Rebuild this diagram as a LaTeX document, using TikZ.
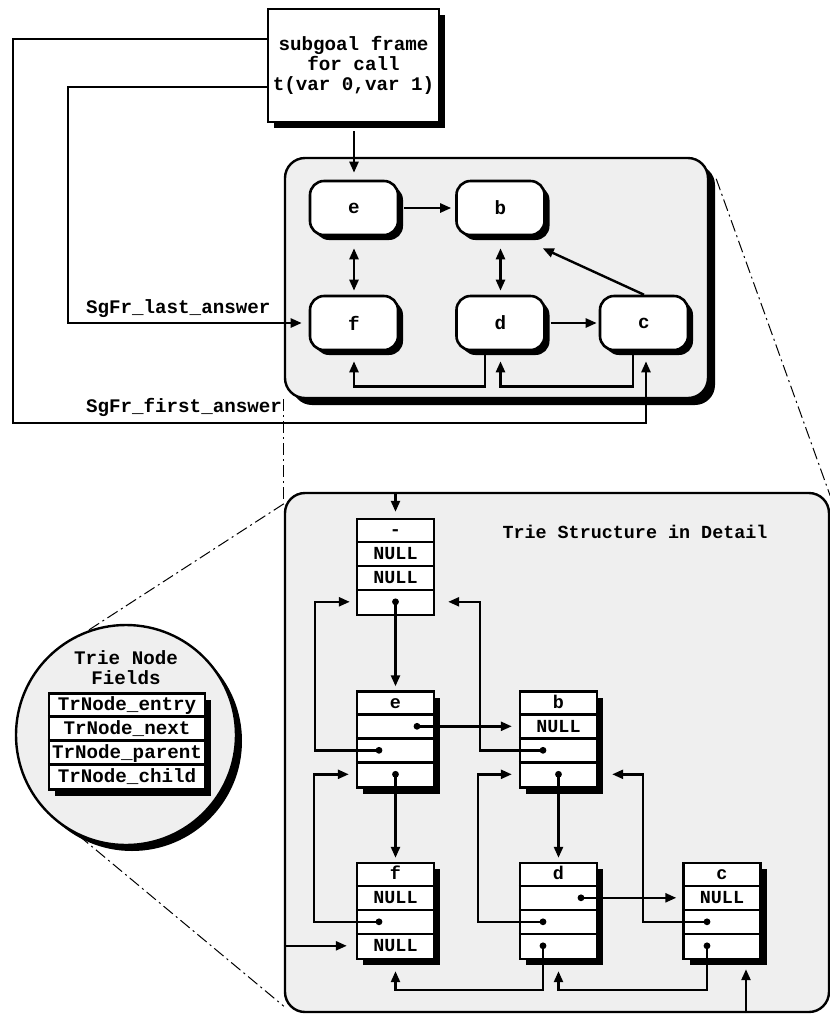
\documentclass[tikz,border=0pt]{standalone}
\usepackage{fontspec}
\setmonofont{Liberation Mono}
\usetikzlibrary{arrows.meta,shadows,calc}
\definecolor{panel}{RGB}{239,239,239}

\tikzset{
  every node/.style={font=\ttfamily\bfseries\fontsize{9.6pt}{10pt}\selectfont},
  blackshadow/.style={drop shadow={shadow xshift=#1,shadow yshift=-#1,opacity=1,fill=black}},
  panelbox/.style={draw,line width=1.2pt,fill=panel,rounded corners=10pt,inner sep=0pt},
  framebox/.style={draw,line width=1.2pt,fill=white,minimum width=85.5pt,minimum height=56.5pt,
    align=center,inner sep=0pt,blackshadow=3pt},
  rnode/.style={draw,line width=1.3pt,fill=white,rounded corners=7pt,minimum width=44pt,
    minimum height=27pt,blackshadow=2.5pt},
  tbox/.style={draw,line width=1.2pt,fill=white,minimum width=38.5pt,minimum height=48pt,inner sep=0pt},
  rowtext/.style={inner sep=0pt,text height=6pt,text depth=0pt,
    font=\ttfamily\bfseries\fontsize{9.2pt}{10pt}\selectfont},
  conn/.style={line width=1.2pt,-{Triangle[length=5.5pt,width=4.5pt]}},
  twoway/.style={line width=1.2pt,{Triangle[length=5.5pt,width=4.5pt]}-{Triangle[length=5.5pt,width=4.5pt]}},
  callout/.style={line width=0.5pt,dash pattern=on 6pt off 2pt on 1pt off 2pt},
}

% a four-field trie node: name, position, extra style, field texts
\newcommand{\trienode}[7]{%
  \node[tbox,#3] (#1) at (#2) {};
  \node[rowtext] (#1-1) at ([yshift=-6pt]#1.north) {#4};
  \node[rowtext] (#1-2) at ([yshift=-18pt]#1.north) {#5};
  \node[rowtext] (#1-3) at ([yshift=-30pt]#1.north) {#6};
  \node[rowtext] (#1-4) at ([yshift=-42pt]#1.north) {#7};
  \coordinate (#1-2w) at (#1.west |- #1-2);
  \coordinate (#1-4w) at (#1.west |- #1-4);
  \coordinate (#1-4e) at (#1.east |- #1-4);
  \draw[line width=1.2pt]
    ([yshift=-12pt]#1.north west) -- ([yshift=-12pt]#1.north east)
    ([yshift=-24pt]#1.north west) -- ([yshift=-24pt]#1.north east)
    ([yshift=-36pt]#1.north west) -- ([yshift=-36pt]#1.north east);
}
\newcommand{\fielddot}[1]{\fill (#1) circle (1.7pt);}

\begin{document}
\begin{tikzpicture}[x=0.5pt,y=-0.5pt]
\useasboundingbox (0,0) rectangle (830,1014);

\coordinate (tpc) at (496.5,278);
\coordinate (bpc) at (557,752.5);

% ---------- panels and legend circle ----------
\node[panelbox,minimum width=211.5pt,minimum height=120pt,blackshadow=3.5pt] (tp) at (tpc) {};
\node[panelbox,minimum width=272pt,minimum height=259.5pt] (bp) at (bpc) {};
\node[circle,draw,line width=1.2pt,fill=panel,minimum size=110pt,inner sep=0pt,blackshadow=3pt]
  (zm) at (126,735) {};

% ---------- zoom call-out lines ----------
\draw[callout] (tp.south west) -- ([yshift=-5pt]bp.north west);
\draw[callout] ([xshift=3.5pt,yshift=-11pt]tp.north east) -- ([yshift=-2pt]bp.north east);
\draw[callout] ([yshift=-6pt]bp.north west) -- (zm.110.7);
\draw[callout] (zm.245) -- ([yshift=3.5pt]bp.south west);

% ---------- upper panel: answer list of the subgoal ----------
\node[framebox] (sg) at (353.5,65.5) {subgoal frame\\for call\\t(var 0,var 1)};

\node[rnode] (se) at (354,208) {e};
\node[rnode] (sb) at (500.5,208) {b};
\node[rnode] (sf) at (354,323) {f};
\node[rnode] (sd) at (500.5,323) {d};
\node[rnode] (sc) at (644,323) {c};

\draw[conn,shorten <=4pt,shorten >=3.5pt] (sg.south -| se.north) -- (se.north);
\draw[conn,shorten <=2.5pt,shorten >=2pt] (se.east) -- (sb.west);
\draw[twoway,shorten <=6pt,shorten >=2pt] (se.south) -- (sf.north);
\draw[twoway,shorten <=6pt,shorten >=2pt] (sb.south) -- (sd.north);
\draw[conn,shorten <=2.5pt,shorten >=1pt] (sd.east) -- (sc.west);
\draw[conn] (sc.north) -- ([xshift=-1.5pt,yshift=-6pt]sb.south east);
\draw[conn,shorten >=5pt] ([xshift=-7.75pt]sd.south) -- ++(0,35) -| (sf.south);
\draw[conn,shorten >=5pt] ([xshift=-5.5pt]sc.south) -- ++(0,35) -| (sd.south);

\coordinate (fa) at (13,423);
\coordinate (la) at (68,323);
\draw[conn,shorten >=5pt] ([yshift=13.25pt]sg.west) -| (fa) -| ([xshift=1pt]sc.south);
\draw[conn,shorten >=3.5pt] ([yshift=-10.75pt]sg.west) -| (la) -- (sf.west);
\node[anchor=west] (lbllast) at (79,309) {SgFr\_last\_answer};
\node[anchor=west] (lblfirst) at (79,407) {SgFr\_first\_answer};

% ---------- lower panel: trie nodes ----------
\node[rowtext] (title) at (635,532) {Trie Structure in Detail};

\trienode{tr}{395.5,567}{}{-}{NULL}{NULL}{}
\trienode{te}{395.5,739.5}{blackshadow=3pt}{e}{}{}{}
\trienode{tb}{558.5,739.5}{blackshadow=3pt}{b}{NULL}{}{}
\trienode{tf}{395.5,911}{blackshadow=3pt}{f}{NULL}{}{NULL}
\trienode{td}{558.5,911}{blackshadow=3pt}{d}{}{}{}
\trienode{tc}{722,911}{blackshadow=3pt}{c}{NULL}{}{}

% pointer origins inside the fields
\coordinate (p-rc) at (tr-4.center);
\coordinate (p-en) at ([xshift=10.75pt]te-2.center);
\coordinate (p-ep) at ([xshift=-8.25pt]te-3.center);
\coordinate (p-ec) at (te-4.center);
\coordinate (p-fp) at ([xshift=-8.25pt]tf-3.center);
\coordinate (p-bp) at ([xshift=-7.75pt]tb-3.center);
\coordinate (p-bc) at (tb-4.center);
\coordinate (p-dn) at ([xshift=11.25pt]td-2.center);
\coordinate (p-dp) at ([xshift=-7.75pt]td-3.center);
\coordinate (p-dc) at ([xshift=-7.75pt]td-4.center);
\coordinate (p-cp) at ([xshift=-7.5pt]tc-3.center);
\coordinate (p-cc) at ([xshift=-7.5pt]tc-4.center);
\coordinate (cin) at ([xshift=12pt]tc.south);

\draw[conn,shorten >=3pt] (tr.north |- bp.north) -- (tr.north);
\draw[conn,shorten >=2pt] (p-rc) -- (te.north);
\draw[conn,shorten >=3.5pt] (p-en) -- (tb-2w);
\draw[conn,shorten >=3pt] (p-ep) -| ([xshift=-20.5pt]tr-4w) -- (tr-4w);
\draw[conn,shorten >=2pt] (p-ec) -- (tf.north);
\draw[conn,shorten >=3.5pt] (p-fp) -| ([xshift=-21pt]te-4w) -- (te-4w);
\draw[conn,shorten >=4.5pt] (bp.west |- tf-4) -- (tf.west |- tf-4);
\draw[conn,shorten >=6.5pt] (p-bp) -| ([xshift=22.5pt]tr-4e) -- (tr-4e);
\draw[conn,shorten >=2pt] (p-bc) -- (td.north);
\draw[conn,shorten >=3pt] (p-dn) -- (tc.west |- tc-2);
\draw[conn,shorten >=3.5pt] (p-dp) -| ([xshift=-20.5pt]tb-4w) -- (tb-4w);
\draw[conn,shorten >=5.5pt] (p-dc) -- ++(0,44) -| (tf.south);
\draw[conn,shorten >=7pt] (p-cp) -| ([xshift=22.5pt]tb-4e) -- (tb-4e);
\draw[conn,shorten >=5.5pt] (p-cc) -- ++(0,44) -| (td.south);
\draw[conn,shorten >=4.5pt] (cin |- bp.south) -- (cin);

\foreach \p in {p-rc,p-en,p-ep,p-ec,p-fp,p-bp,p-bc,p-dn,p-dp,p-dc,p-cp,p-cc}{\fielddot{\p}}

% ---------- legend circle ----------
\node[align=center] (ztitle) at (126,667.5) {Trie Node\\Fields};
\node[tbox,minimum width=78pt,blackshadow=3pt] (flds) at (127,741.5) {};
\node[rowtext,font=\ttfamily\bfseries\fontsize{9.6pt}{10pt}\selectfont] (flds-1) at ([yshift=-6pt]flds.north) {TrNode\_entry};
\node[rowtext,font=\ttfamily\bfseries\fontsize{9.6pt}{10pt}\selectfont] (flds-2) at ([yshift=-18pt]flds.north) {TrNode\_next};
\node[rowtext,font=\ttfamily\bfseries\fontsize{9.6pt}{10pt}\selectfont] (flds-3) at ([yshift=-30pt]flds.north) {TrNode\_parent};
\node[rowtext,font=\ttfamily\bfseries\fontsize{9.6pt}{10pt}\selectfont] (flds-4) at ([yshift=-42pt]flds.north) {TrNode\_child};
\draw[line width=1.2pt]
  ([yshift=-12pt]flds.north west) -- ([yshift=-12pt]flds.north east)
  ([yshift=-24pt]flds.north west) -- ([yshift=-24pt]flds.north east)
  ([yshift=-36pt]flds.north west) -- ([yshift=-36pt]flds.north east);
\end{tikzpicture}
\end{document}
